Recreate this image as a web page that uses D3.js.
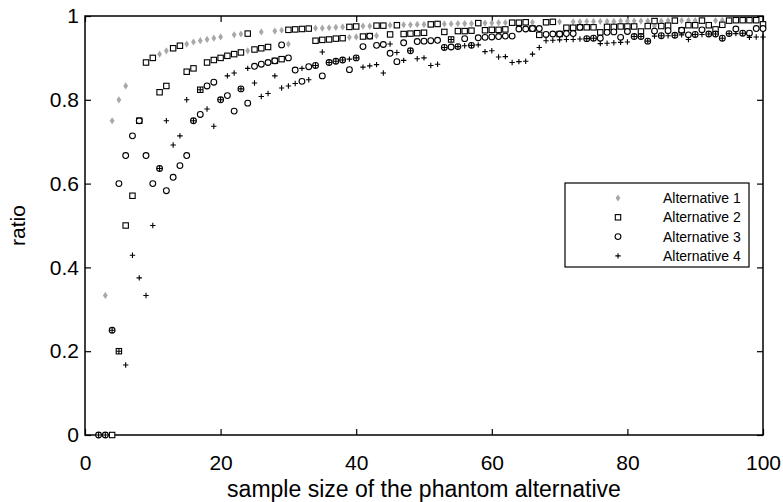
<!DOCTYPE html>
<html lang="en">
	<head>
		<meta charset="utf-8">
		<title>ratio vs sample size</title>
		<script type="text/javascript" src="https://d3js.org/d3.v7.min.js"></script>
		<style type="text/css">
			body { margin: 0; background: #fff; }
			text { font-family: "Liberation Sans", Arial, sans-serif; }
		</style>
	</head>
	<body>
		<script type="text/javascript">

			// sample sizes 2..100 (null = no visible marker)
			var sampleSizes = d3.range(2, 101);

			var alt1 = [null, .333, .75, .8, .833, null, null, .889, .9, .909, .917, .923, .929, .933, .938, .941, .944, .947, .95,
				.905, .955, .957, .917, .92, .962, .926, .964, .966, .933, .968, .969, .97, .971, .971, .972, .973, .974, .949,
				.95, .976, .976, .953, .977, .978, .978, .979, .979, .98, .98, .98, .981, .981, .981, .982, .982, .982, .983,
				.983, .983, .984, .984, .984, .984, .985, .985, .97, .985, .986, .986, .972, .986, .986, .987, .987, .987,
				.987, .987, .988, .988, .988, .988, .988, .976, .988, .989, .989, .989, .989, .989, .989, .978, .989, .99,
				.99, .99, .99, .99, .99];

			var alt2 = [null, null, 0, .2, .5, .571, .75, .889, .9, .818, .833, .923, .929, .867, .875, .824, .889, .895, .9,
				.905, .909, .913, .958, .92, .923, .926, .893, .897, .967, .968, .969, .97, .941, .943, .944, .946, .947, .974,
				.975, .951, .952, .977, .977, .956, .978, .957, .958, .959, .96, .98, .981, .962, .944, .964, .964, .965, .983,
				.966, .967, .967, .968, .984, .984, .985, .97, .955, .985, .986, .957, .972, .972, .973, .973, .973, .961,
				.974, .974, .975, .975, .975, .963, .976, .988, .976, .977, .989, .966, .978, .978, .989, .978, .968, .979,
				.989, .99, .99, .99, .99, .98];

			var alt3 = [0, 0, .25, .6, .667, .714, .75, .667, .6, .636, .583, .615, .643, .667, .75, .765, .833, .842, .8,
				.81, .773, .826, .792, .88, .885, .889, .893, .931, .9, .871, .844, .879, .882, .857, .889, .892, .895, .872,
				.9, .927, .952, .93, .932, .911, .891, .936, .917, .939, .94, .941, .942, .925, .926, .927, .946, .93, .948,
				.949, .95, .951, .952, .952, .969, .969, .97, .97, .956, .957, .957, .958, .958, .973, .946, .947, .947,
				.961, .962, .949, .963, .951, .951, .94, .964, .953, .965, .954, .966, .955, .956, .967, .957, .957, .947,
				.958, .969, .959, .959, .97, .97];

			var alt4 = [0, 0, .25, .2, .167, .429, .375, .333, .5, .636, .75, .692, .714, .8, .75, .824, .778, .737, .8,
				.857, .864, .826, .875, .84, .808, .815, .857, .828, .833, .839, .875, .848, .882, .914, .889, .892, .895, .897,
				.9, .878, .881, .884, .864, .933, .913, .894, .917, .898, .9, .882, .885, .925, .944, .927, .929, .93, .931,
				.915, .917, .902, .903, .889, .891, .892, .909, .925, .941, .942, .943, .944, .944, .945, .946, .947, .934,
				.935, .936, .937, .938, .951, .951, .94, .952, .953, .953, .954, .955, .944, .956, .956, .957, .957, .947,
				.958, .958, .959, .949, .95, .95];

			var seriesNames = ["Alternative 1", "Alternative 2", "Alternative 3", "Alternative 4"];
			var xTicks = [0, 20, 40, 60, 80, 100];
			var yTicks = [0, 0.2, 0.4, 0.6, 0.8, 1];

			var w = 783;
			var h = 502;

			var xScale = d3.scaleLinear().domain([0, 100]).range([85, 763]);
			var yScale = d3.scaleLinear().domain([0, 1]).range([435, 16]);

			var svg = d3.select("body")
						.append("svg")
						.attr("width", w)
						.attr("height", h);

			// axes, ticks pointing inward on all four sides
			svg.append("g")
				.attr("transform", "translate(0," + yScale(0) + ")")
				.call(d3.axisBottom(xScale).tickValues(xTicks).tickSize(-6).tickPadding(20).tickFormat(d3.format("~g")));
			svg.append("g")
				.attr("transform", "translate(" + xScale(0) + ",0)")
				.call(d3.axisLeft(yScale).tickValues(yTicks).tickSize(-6).tickPadding(6).tickFormat(d3.format("~g")));
			svg.append("g")
				.attr("transform", "translate(0," + yScale(1) + ")")
				.call(d3.axisTop(xScale).tickValues(xTicks).tickSize(-6).tickFormat(""));
			svg.append("g")
				.attr("transform", "translate(" + xScale(100) + ",0)")
				.call(d3.axisRight(yScale).tickValues(yTicks).tickSize(-6).tickFormat(""));

			svg.selectAll(".domain").remove();
			svg.selectAll(".tick line").attr("stroke", "#000").attr("stroke-width", 1.2);
			svg.selectAll(".tick text").attr("fill", "#000").style("font-size", "21px");

			svg.append("rect")
				.attr("x", xScale(0))
				.attr("y", yScale(1))
				.attr("width", xScale(100) - xScale(0))
				.attr("height", yScale(0) - yScale(1))
				.attr("fill", "none")
				.attr("stroke", "#000")
				.attr("stroke-width", 1.5);

			// axis titles
			svg.append("text")
				.attr("x", (xScale(0) + xScale(100)) / 2)
				.attr("y", 497)
				.attr("text-anchor", "middle")
				.style("font-size", "23px")
				.text("sample size of the phantom alternative");

			svg.append("text")
				.attr("transform", "translate(25," + ((yScale(0) + yScale(1)) / 2) + ") rotate(-90)")
				.attr("text-anchor", "middle")
				.style("font-size", "21px")
				.text("ratio");

			// marker shapes
			function diamond(g) {
				g.append("path").attr("d", "M0,-3.6L2.4,0L0,3.6L-2.4,0Z").attr("fill", "#a8a8a8");
			}
			function square(g) {
				g.append("rect").attr("x", -2.7).attr("y", -2.7).attr("width", 5.4).attr("height", 5.4)
					.attr("fill", "#fff").attr("stroke", "#000").attr("stroke-width", 1.1);
			}
			function circle(g) {
				g.append("circle").attr("r", 2.9).attr("fill", "#fff").attr("stroke", "#000").attr("stroke-width", 1.1);
			}
			function plus(g) {
				g.append("path").attr("d", "M-2.7,0H2.7M0,-2.7V2.7").attr("stroke", "#000").attr("stroke-width", 1.1);
			}
			var markers = [diamond, square, circle, plus];
			var allSeries = [alt1, alt2, alt3, alt4];

			var plot = svg.append("g");
			allSeries.forEach(function(vals, i) {
				var pts = vals
					.map(function(v, j) { return { n: sampleSizes[j], v: v }; })
					.filter(function(d) { return d.v !== null; });
				plot.append("g")
					.selectAll("g")
					.data(pts)
					.enter()
					.append("g")
					.attr("transform", function(d) {
						return "translate(" + xScale(d.n) + "," + yScale(d.v) + ")";
					})
					.each(function() { markers[i](d3.select(this)); });
			});

			// legend
			var legend = svg.append("g");
			legend.append("rect")
				.attr("x", 565).attr("y", 183)
				.attr("width", 184).attr("height", 84)
				.attr("fill", "#fff").attr("stroke", "#000").attr("stroke-width", 1.2);
			var items = legend.selectAll("g.item")
				.data(seriesNames)
				.enter()
				.append("g")
				.attr("class", "item")
				.attr("transform", function(d, i) { return "translate(0," + (198 + i * 19.3) + ")"; });
			items.each(function(d, i) {
				var m = d3.select(this).append("g").attr("transform", "translate(618,0)");
				markers[i](m);
			});
			items.append("text")
				.attr("x", 663)
				.attr("y", 0)
				.attr("dy", "0.35em")
				.style("font-size", "14px")
				.text(function(d) { return d; });

		</script>
	</body>
</html>
